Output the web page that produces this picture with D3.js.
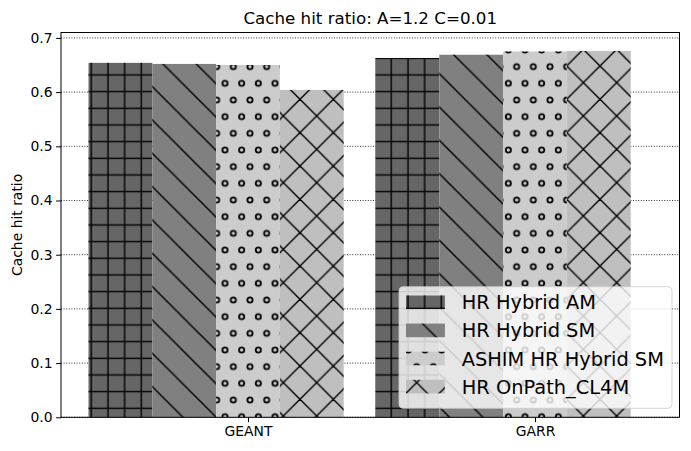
<!DOCTYPE html>
<html><head><meta charset="utf-8">
<script src="https://cdn.jsdelivr.net/npm/d3@7"></script>
<style>
html,body{margin:0;padding:0;background:#fff;}
text{font-family:"DejaVu Sans",sans-serif;fill:#000;}
</style></head>
<body><svg id="c" width="691" height="451"></svg>
<script>
const categories = ["GEANT", "GARR"];
const seriesNames = ["HR Hybrid AM", "HR Hybrid SM", "ASHIM HR Hybrid SM", "HR OnPath_CL4M"];
const hrHybridAM = [0.654, 0.663];
const hrHybridSM = [0.652, 0.669];
const ashimHybridSM = [0.650, 0.675];
const hrOnPath = [0.604, 0.676];
const yTicks = [0.0, 0.1, 0.2, 0.3, 0.4, 0.5, 0.6, 0.7];
const seriesValues = [hrHybridAM, hrHybridSM, ashimHybridSM, hrOnPath];
const seriesColors = ["#666666", "#808080", "#cccccc", "#bfbfbf"];
const seriesHatch = ["plus", "back", "circ", "cross"];

const svg = d3.select("#c");
const L = 61, R = 679.5, T = 32.5, B = 417.3;
const barW = 0.2223;
const x = d3.scaleLinear().domain([-0.6516, 1.5035]).range([L, R]);
const y = d3.scaleLinear().domain([0, 0.71]).range([B, T]);

// hatch patterns (anchored to page coordinates)
const defs = svg.append("defs");
const hs = 1.4;
const cell = 100/6, big = 100/3;
{
  const p = defs.append("pattern").attr("id","plus").attr("patternUnits","userSpaceOnUse")
    .attr("width",cell).attr("height",cell);
  p.append("line").attr("x1",8).attr("x2",8).attr("y1",-1).attr("y2",cell+1).attr("stroke","#000").attr("stroke-width",hs);
  p.append("line").attr("y1",8.3).attr("y2",8.3).attr("x1",-1).attr("x2",cell+1).attr("stroke","#000").attr("stroke-width",hs);
}
// lines x - y = c  (top-left to bottom-right)
function backLines(p, c){
  const g = p.append("g");
  [c-big, c, c+big].forEach(k=>{
    g.append("line").attr("x1",k-10).attr("y1",-10).attr("x2",k+big+20).attr("y2",big+20);
  });
  g.selectAll("line").attr("stroke","#000").attr("stroke-width",hs);
}
// lines x + y = c  (top-right to bottom-left)
function fwdLines(p, c){
  const g = p.append("g");
  [c-big, c, c+big].forEach(k=>{
    g.append("line").attr("x1",k+10).attr("y1",-10).attr("x2",k-big-20).attr("y2",big+20);
  });
  g.selectAll("line").attr("stroke","#000").attr("stroke-width",hs);
}
{
  const p = defs.append("pattern").attr("id","back").attr("patternUnits","userSpaceOnUse")
    .attr("width",big).attr("height",big);
  backLines(p, 32.3);
}
{
  const p = defs.append("pattern").attr("id","cross").attr("patternUnits","userSpaceOnUse")
    .attr("width",big).attr("height",big);
  fwdLines(p, 32.6);
  backLines(p, 0.7);
}
{
  const p = defs.append("pattern").attr("id","circ").attr("patternUnits","userSpaceOnUse")
    .attr("width",cell).attr("height",big);
  [[cell/2,cell],[0,0],[cell,0],[0,big],[cell,big]].forEach(([cx,cy])=>{
    p.append("circle").attr("cx",cx).attr("cy",cy).attr("r",2.6)
      .attr("fill","none").attr("stroke","#000").attr("stroke-width",1.8);
  });
}

// grid
svg.append("g").selectAll("line").data(yTicks).join("line")
  .attr("x1",L).attr("x2",R).attr("y1",d=>y(d)).attr("y2",d=>y(d))
  .attr("stroke","#000").attr("stroke-width",0.8).attr("stroke-dasharray","1,1.6");

// bars
const bars = svg.append("g");
seriesValues.forEach((vals, j)=>{
  vals.forEach((v,i)=>{
    const x0 = x(i + (j-2.5)*barW), x1 = x(i + (j-1.5)*barW);
    bars.append("rect").attr("x",x0).attr("y",y(v)).attr("width",x1-x0).attr("height",y(0)-y(v))
      .attr("fill",seriesColors[j]);
    bars.append("rect").attr("x",x0).attr("y",y(v)).attr("width",x1-x0).attr("height",y(0)-y(v))
      .attr("fill","url(#"+seriesHatch[j]+")");
  });
});

// axes
const yAxis = d3.axisLeft(y).tickValues(yTicks).tickFormat(d3.format(".1f")).tickSize(4.9).tickPadding(3.5);
const gy = svg.append("g").attr("transform",`translate(${L},0)`).call(yAxis);
gy.select(".domain").remove();
gy.selectAll("text").style("font-size","13.9px").attr("font-family","DejaVu Sans");
gy.selectAll("line").attr("stroke-width",1);
const xAxis = d3.axisBottom(x).tickValues([0,1]).tickFormat(i=>categories[i]).tickSize(4.9).tickPadding(3.5);
const gx = svg.append("g").attr("transform",`translate(0,${B})`).call(xAxis);
gx.select(".domain").remove();
gx.selectAll("text").style("font-size","13.9px").attr("font-family","DejaVu Sans");
gx.selectAll("line").attr("stroke-width",1);

svg.append("rect").attr("x",L).attr("y",T).attr("width",R-L).attr("height",B-T)
  .attr("fill","none").attr("stroke","#000").attr("stroke-width",1);

// title & label
svg.append("text").attr("x",(L+R)/2).attr("y",24).attr("text-anchor","middle")
  .style("font-size","16.7px").text("Cache hit ratio: A=1.2 C=0.01");
svg.append("text").attr("transform",`translate(21.5,${(T+B)/2}) rotate(-90)`).attr("text-anchor","middle")
  .style("font-size","13.9px").text("Cache hit ratio");

// legend
const lg = svg.append("g");
lg.append("rect").attr("x",399).attr("y",286.7).attr("width",273).attr("height",121.6).attr("rx",4)
  .attr("fill","#fff").attr("fill-opacity",0.8).attr("stroke","#cccccc").attr("stroke-opacity",0.8).attr("stroke-width",1);
seriesNames.forEach((n,j)=>{
  const cy = 302.3 + j*28.1;
  lg.append("rect").attr("x",406).attr("y",cy-6.8).attr("width",38.9).attr("height",13.6).attr("fill",seriesColors[j]);
  lg.append("rect").attr("x",406).attr("y",cy-6.8).attr("width",38.9).attr("height",13.6).attr("fill","url(#"+seriesHatch[j]+")");
  lg.append("text").attr("x",461.7).attr("y",cy+7).style("font-size","19.4px").text(n);
});
</script></body></html>
